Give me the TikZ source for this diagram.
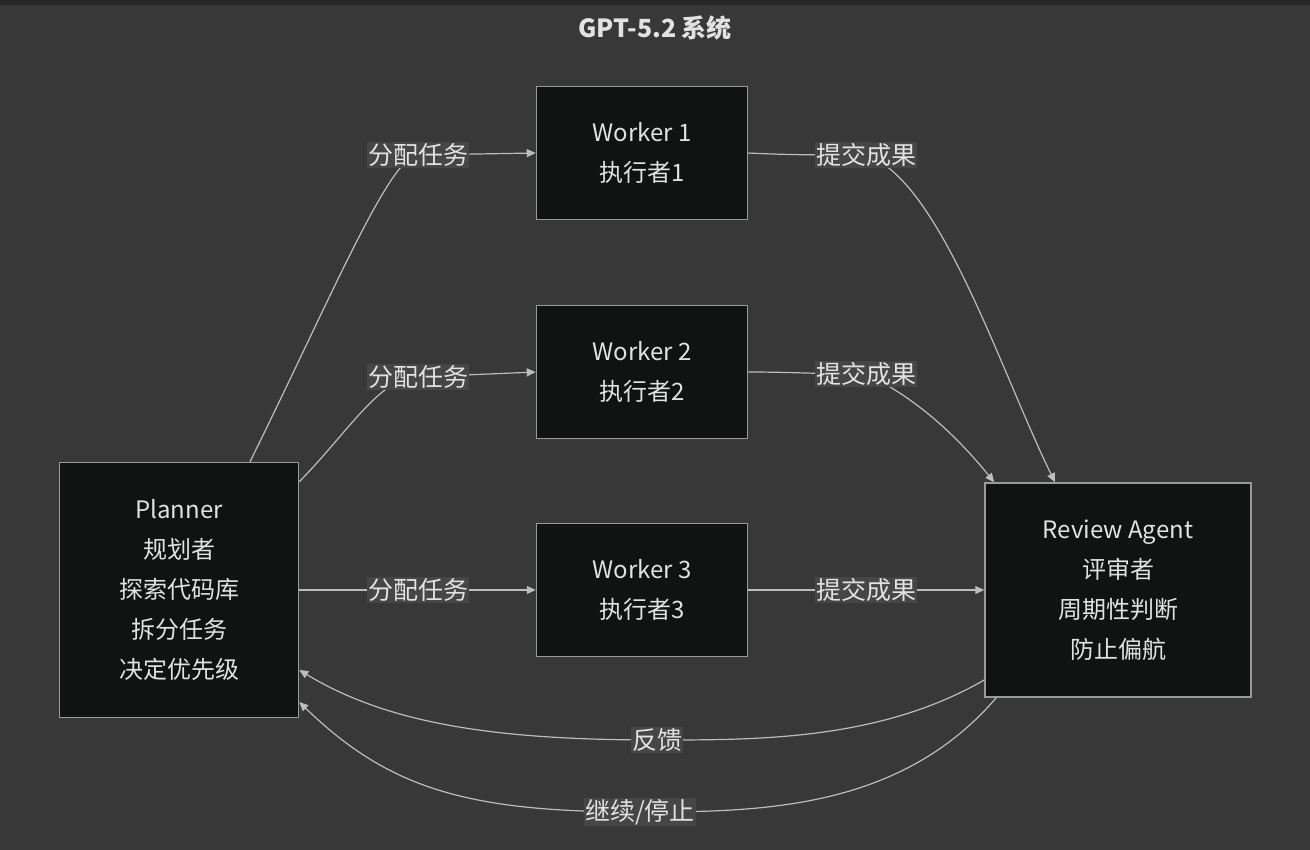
\documentclass[tikz,border=0pt]{standalone}
\usepackage{fontspec}
\setmainfont{Noto Sans CJK SC}
\usetikzlibrary{arrows.meta,calc}
\definecolor{bg}{HTML}{383838}
\definecolor{boxf}{HTML}{111212}
\definecolor{boxd}{HTML}{9A9A9A}
\definecolor{txt}{HTML}{E2E2E2}
\definecolor{lblf}{HTML}{464646}
\definecolor{ln}{HTML}{BDBDBD}
\begin{document}
\begin{tikzpicture}[x=1pt,y=-1pt,
  box/.style={draw=boxd,line width=1.5pt,fill=boxf,text=txt,align=center,font=\fontsize{24}{40}\selectfont,inner sep=0pt},
  lbl/.style={fill=lblf,text=txt,font=\fontsize{25}{28}\selectfont,inner sep=1pt},
  edge/.style={draw=ln,line width=1.2pt},
  arr/.style={edge,-{Triangle[length=9pt,width=8pt]}}]
\fill[bg] (0,0) rectangle (1310,850);
\fill[black!85] (0,0) rectangle (1310,5);
\useasboundingbox (0,0) rectangle (1310,850);
\node[text=txt,font=\fontsize{25}{28}\selectfont\bfseries] (title) at (655,28) {GPT-5.2 系统};
\node[box,minimum width=211pt,minimum height=133pt] (W1) at (642,153) {Worker 1\\执行者1};
\node[box,minimum width=211pt,minimum height=133pt] (W2) at (642,372) {Worker 2\\执行者2};
\node[box,minimum width=211pt,minimum height=133pt] (W3) at (642,590) {Worker 3\\执行者3};
\node[box,minimum width=239pt,minimum height=255pt] (P) at (179,590) {Planner\\规划者\\探索代码库\\拆分任务\\决定优先级};
\node[box,minimum width=266pt,minimum height=214pt] (R) at (1118,590) {Review Agent\\评审者\\周期性判断\\防止偏航};
\coordinate (l1) at (418,155);
\coordinate (l2) at (418,377);
\coordinate (l3) at (418,590);
\coordinate (r1) at (866,155);
\coordinate (r2) at (866,374);
\coordinate (r3) at (866,590);
\coordinate (f1) at (657,740);
\coordinate (f2) at (640,812);
\draw[edge] ($(P.north)+(71,0)$) .. controls (330,300) and (390,155) .. (l1);
\draw[arr] (l1) -- (W1.west);
\draw[edge] ($(P.north east)+(0,20)$) .. controls (350,430) and (380,377) .. (l2);
\draw[arr] (l2) -- (W2.west);
\draw[arr] (P.east) -- (W3.west);
\draw[edge] (W1.east) .. controls (790,155) and (820,155) .. (r1);
\draw[arr] (r1) .. controls (940,180) and (1000,370) .. ($(R.north)+(-63,0)$);
\draw[edge] (W2.east) .. controls (790,372) and (820,374) .. (r2);
\draw[arr] (r2) .. controls (920,400) and (960,440) .. ($(R.north west)+(10,0)$);
\draw[arr] (W3.east) -- (R.west);
\draw[edge] ($(R.west)+(0,90)$) .. controls (880,740) and (760,740) .. (f1);
\draw[arr] (f1) .. controls (500,740) and (390,725) .. ($(P.east)+(0,80)$);
\draw[edge] ($(R.south west)+(12,0)$) .. controls (900,810) and (760,812) .. (f2);
\draw[arr] (f2) .. controls (470,812) and (390,790) .. ($(P.east)+(0,112)$);
\node[lbl] at (l1) {分配任务};
\node[lbl] at (l2) {分配任务};
\node[lbl] at (l3) {分配任务};
\node[lbl] at (r1) {提交成果};
\node[lbl] at (r2) {提交成果};
\node[lbl] at (r3) {提交成果};
\node[lbl] at (f1) {反馈};
\node[lbl] at (f2) {继续/停止};
\end{tikzpicture}
\end{document}
